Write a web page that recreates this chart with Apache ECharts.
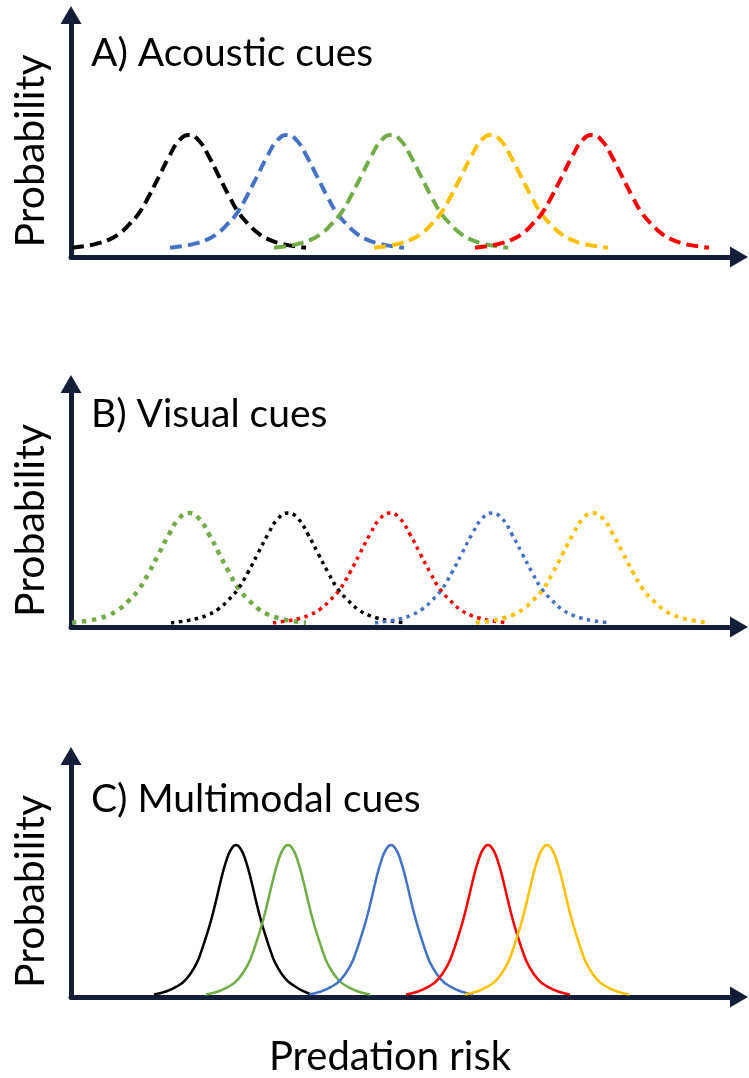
<!DOCTYPE html>
<html><head><meta charset="utf-8">
<script src="https://cdn.jsdelivr.net/npm/echarts@6/dist/echarts.min.js"></script>
<style>html,body{margin:0;padding:0;background:#fff}#c{width:749px;height:1078px}</style>
</head><body><div id="c"></div>
<script>
// ---- text ----
const panelTitles = ['A) Acoustic cues', 'B) Visual cues', 'C) Multimodal cues'];
const yAxisTitle = 'Probability';
const xAxisTitle = 'Predation risk';

// ---- colours ----
const BLACK = '#000000', BLUE = '#4472C4', GREEN = '#70AD47', YELLOW = '#FFC000', RED = '#FF0000';
const AXIS = '#131f38';

// ---- curve heights (peak = 1); all curves of a panel share one shape ----
const heightsAB = [0.02,0.04,0.06,0.09,0.14,0.22,0.32,0.47,0.64,0.81,0.95,1,0.95,0.81,0.64,0.47,0.32,0.22,0.14,0.09,0.06,0.04,0.02];
const heightsC  = [0.01,0.03,0.06,0.11,0.21,0.29,0.39,0.50,0.63,0.77,0.89,0.97,1,0.97,0.89,0.77,0.63,0.50,0.39,0.29,0.21,0.11,0.06,0.03,0.01];

// ---- predation-risk positions of each curve's points ----
// A) acoustic (dashed)
const acousticBlack  = [0.1,1.8,2.8,3.8,4.8,5.8,6.8,7.8,8.8,9.8,10.8,11.8,12.8,13.8,14.8,15.8,16.8,17.8,18.8,19.8,20.8,21.8,23.5];
const acousticBlue   = [9.9,11.6,12.6,13.6,14.6,15.6,16.6,17.6,18.6,19.6,20.6,21.6,22.6,23.6,24.6,25.6,26.6,27.6,28.6,29.6,30.6,31.6,33.3];
const acousticGreen  = [20.3,22,23,24,25,26,27,28,29,30,31,32,33,34,35,36,37,38,39,40,41,42,43.7];
const acousticYellow = [30.3,32,33,34,35,36,37,38,39,40,41,42,43,44,45,46,47,48,49,50,51,52,53.7];
const acousticRed    = [40.4,42.1,43.1,44.1,45.1,46.1,47.1,48.1,49.1,50.1,51.1,52.1,53.1,54.1,55.1,56.1,57.1,58.1,59.1,60.1,61.1,62.1,63.8];
// B) visual (dotted)
const visualGreen  = [0.1,1.8,2.8,3.8,4.8,5.8,6.8,7.8,8.8,9.8,10.8,11.8,12.8,13.8,14.8,15.8,16.8,17.8,18.8,19.8,20.8,21.8,23.5];
const visualBlack  = [10,11.7,12.7,13.7,14.7,15.7,16.7,17.7,18.7,19.7,20.7,21.7,22.7,23.7,24.7,25.7,26.7,27.7,28.7,29.7,30.7,31.7,33.4];
const visualRed    = [20.2,21.9,22.9,23.9,24.9,25.9,26.9,27.9,28.9,29.9,30.9,31.9,32.9,33.9,34.9,35.9,36.9,37.9,38.9,39.9,40.9,41.9,43.6];
const visualBlue   = [30.4,32.1,33.1,34.1,35.1,36.1,37.1,38.1,39.1,40.1,41.1,42.1,43.1,44.1,45.1,46.1,47.1,48.1,49.1,50.1,51.1,52.1,53.8];
const visualYellow = [40.5,42.2,43.2,44.2,45.2,46.2,47.2,48.2,49.2,50.2,51.2,52.2,53.2,54.2,55.2,56.2,57.2,58.2,59.2,60.2,61.2,62.2,63.9];
// C) multimodal (solid)
const multiBlack  = [8.3,9.5,10.5,11.5,12.5,13,13.5,14,14.5,15,15.5,16,16.5,17,17.5,18,18.5,19,19.5,20,20.5,21.5,22.5,23.3,24.0];
const multiGreen  = [13.5,14.7,15.7,16.7,17.7,18.2,18.7,19.2,19.7,20.2,20.7,21.2,21.7,22.2,22.7,23.2,23.7,24.2,24.7,25.2,25.7,26.7,27.7,28.7,29.9];
const multiBlue   = [23.8,25,26,27,28,28.5,29,29.5,30,30.5,31,31.5,32,32.5,33,33.5,34,34.5,35,35.5,36,37,38,39,40.2];
const multiRed    = [33.5,34.7,35.7,36.7,37.7,38.2,38.7,39.2,39.7,40.2,40.7,41.2,41.7,42.2,42.7,43.2,43.7,44.2,44.7,45.2,45.7,46.7,47.7,48.7,49.9];
const multiYellow = [39.4,40.6,41.6,42.6,43.6,44.1,44.6,45.1,45.6,46.1,46.6,47.1,47.6,48.1,48.6,49.1,49.6,50.1,50.6,51.1,51.6,52.6,53.6,54.6,55.8];

// axis ranges
const xRange = [0, 66.8];
const yRanges = [[-0.061, 2.0435], [-0.018, 2.152], [-0.0066, 1.589]];

const FONT = 'Lato';
const DASHED = [12, 6];

function curve(name, gi, xs, ys, color, width, dash) {
  return {
    type: 'line', name: name, xAxisIndex: gi, yAxisIndex: gi,
    data: xs.map((x, i) => [x, ys[i]]),
    showSymbol: false, smooth: 0.5, clip: false, silent: true,
    lineStyle: { color: color, width: width, type: dash || 'solid', cap: 'butt' }
  };
}

const axisLine = {
  show: true, onZero: false, symbol: ['none', 'triangle'], symbolSize: [21, 18],
  lineStyle: { color: AXIS, width: 5 }
};

const grids = [
  { left: 71, right: 10, top: 15, height: 242 },
  { left: 71, right: 10, top: 384, height: 243 },
  { left: 71, right: 10, top: 756, height: 241 }
];

const xAxes = grids.map((g, i) => ({
  type: 'value', gridIndex: i, min: xRange[0], max: xRange[1],
  axisLine: axisLine, axisTick: { show: false }, axisLabel: { show: false }, splitLine: { show: false },
  name: i === 2 ? xAxisTitle : '', nameLocation: 'middle', nameGap: 40,
  nameTextStyle: { fontFamily: FONT, fontSize: 40, color: '#000', padding: [0, 30, 0, 0] }
}));

const yAxes = grids.map((g, i) => ({
  type: 'value', gridIndex: i, min: yRanges[i][0], max: yRanges[i][1],
  axisLine: axisLine, axisTick: { show: false }, axisLabel: { show: false }, splitLine: { show: false },
  name: yAxisTitle, nameLocation: 'middle', nameRotate: 90, nameGap: 20,
  nameTextStyle: { fontFamily: FONT, fontSize: 41, color: '#000', padding: [0, 30, 0, 0] }
}));

const titleTops = [34, 395, 780];
const titles = panelTitles.map((t, i) => ({
  text: t, left: 91, top: titleTops[i], padding: 0,
  textStyle: { fontFamily: FONT, fontSize: 39, fontWeight: 'normal', color: '#000' }
}));

const series = [
  curve('A black', 0, acousticBlack, heightsAB, BLACK, 4, DASHED),
  curve('A blue', 0, acousticBlue, heightsAB, BLUE, 4, DASHED),
  curve('A green', 0, acousticGreen, heightsAB, GREEN, 4, DASHED),
  curve('A yellow', 0, acousticYellow, heightsAB, YELLOW, 4, DASHED),
  curve('A red', 0, acousticRed, heightsAB, RED, 4, DASHED),
  curve('B green', 1, visualGreen, heightsAB, GREEN, 4.5, [4.5, 5.5]),
  curve('B black', 1, visualBlack, heightsAB, BLACK, 3.5, [3.5, 4.5]),
  curve('B red', 1, visualRed, heightsAB, RED, 3.5, [3.5, 4.5]),
  curve('B blue', 1, visualBlue, heightsAB, BLUE, 3.5, [3.5, 4.5]),
  curve('B yellow', 1, visualYellow, heightsAB, YELLOW, 4, [4, 5]),
  curve('C black', 2, multiBlack, heightsC, BLACK, 2.5),
  curve('C green', 2, multiGreen, heightsC, GREEN, 2.5),
  curve('C blue', 2, multiBlue, heightsC, BLUE, 2.5),
  curve('C red', 2, multiRed, heightsC, RED, 2.5),
  curve('C yellow', 2, multiYellow, heightsC, YELLOW, 2.5)
];

const chart = echarts.init(document.getElementById('c'), null, { renderer: 'canvas' });
chart.setOption({
  animation: false,
  backgroundColor: '#ffffff',
  title: titles,
  grid: grids,
  xAxis: xAxes,
  yAxis: yAxes,
  series: series
});
</script>
</body></html>
